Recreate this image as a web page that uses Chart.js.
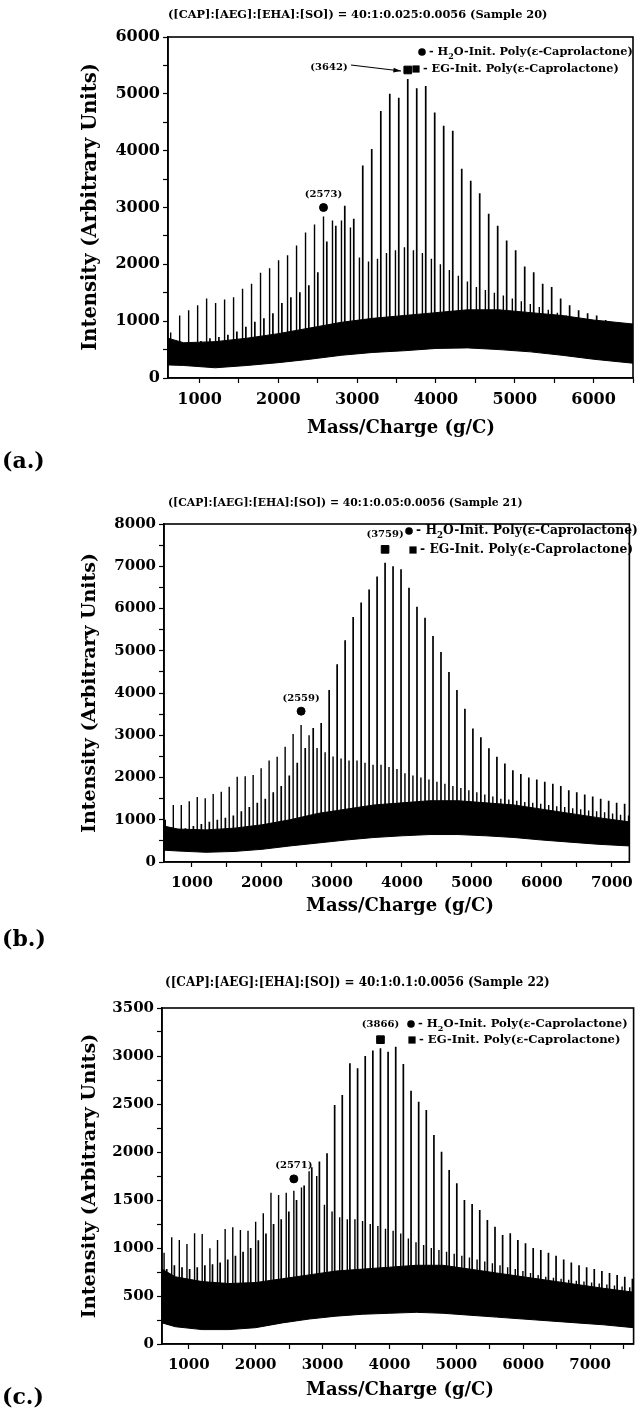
<!DOCTYPE html>
<html>
<head>
<meta charset="utf-8">
<script src="https://cdn.jsdelivr.net/npm/chart.js@4.4.1/dist/chart.umd.min.js"></script>
<style>
  body { margin: 0; background: #fff; width: 640px; height: 1412px; position: relative; overflow: hidden; }
  canvas { position: absolute; left: 0; }
</style>
</head>
<body>
<canvas id="chartA" width="640" height="478" style="top:0px"></canvas>
<canvas id="chartB" width="640" height="472" style="top:478px"></canvas>
<canvas id="chartC" width="640" height="462" style="top:950px"></canvas>
<script>
// ================== (a.) SAMPLE 20 ==================
const titleA = "([CAP]:[AEG]:[EHA]:[SO]) = 40:1:0.025:0.0056 (Sample 20)";
const mzH2O_a = [634, 748, 862, 976, 1090, 1204, 1318, 1432, 1546, 1660, 1774, 1889, 2003, 2117, 2231, 2345, 2459, 2573, 2687, 2801, 2915, 3029, 3144, 3258, 3372, 3486, 3600, 3714, 3828, 3942, 4056, 4170, 4284, 4399, 4513, 4627, 4741, 4855, 4969, 5083, 5197, 5311, 5425, 5540, 5654, 5768, 5882, 5996, 6110, 6224, 6338, 6452];
const intH2O_a = [800, 1100, 1190, 1280, 1400, 1320, 1380, 1420, 1570, 1660, 1850, 1930, 2070, 2160, 2330, 2560, 2700, 2840, 2770, 2770, 2650, 2120, 2050, 2100, 2200, 2250, 2300, 2250, 2200, 2100, 2000, 1900, 1800, 1700, 1600, 1550, 1500, 1450, 1400, 1350, 1300, 1250, 1200, 1150, 1100, 1050, 1000, 980, 950, 920, 900, 880];
const mzEG_a = [675, 790, 904, 1018, 1132, 1246, 1360, 1474, 1588, 1702, 1817, 1931, 2045, 2159, 2273, 2387, 2501, 2615, 2729, 2843, 2957, 3071, 3185, 3300, 3414, 3528, 3642, 3756, 3870, 3984, 4098, 4213, 4327, 4441, 4555, 4669, 4783, 4897, 5011, 5126, 5240, 5354, 5468, 5582, 5696, 5810, 5924, 6039, 6153, 6267, 6381, 6495];
const intEG_a = [550, 600, 620, 650, 700, 720, 760, 820, 900, 990, 1050, 1140, 1320, 1420, 1510, 1630, 1860, 2400, 2680, 3030, 2800, 3740, 4030, 4700, 5000, 4930, 5260, 5100, 5140, 4670, 4440, 4350, 3680, 3470, 3250, 2890, 2680, 2420, 2250, 1960, 1860, 1660, 1600, 1400, 1280, 1190, 1140, 1100, 1020, 900, 790, 700];
const bandMz_a = [600, 800, 1200, 1600, 2000, 2400, 2800, 3200, 3600, 4000, 4400, 4800, 5200, 5600, 6000, 6500];
const bandLo_a = [230, 220, 180, 220, 270, 330, 400, 450, 480, 520, 530, 500, 460, 400, 330, 260];
const bandHi_a = [700, 620, 640, 700, 780, 880, 980, 1050, 1100, 1150, 1200, 1200, 1150, 1100, 1020, 950];
const markH2O_a = [2573, 3000];
const markEG_a = [3642, 5420];

// ================== (b.) SAMPLE 21 ==================
const titleB = "([CAP]:[AEG]:[EHA]:[SO]) = 40:1:0.05:0.0056 (Sample 21)";
const mzH2O_b = [619, 733, 847, 961, 1075, 1189, 1303, 1418, 1532, 1646, 1760, 1874, 1988, 2102, 2217, 2331, 2445, 2559, 2673, 2787, 2902, 3016, 3130, 3244, 3358, 3472, 3587, 3701, 3815, 3929, 4043, 4157, 4271, 4386, 4500, 4614, 4728, 4842, 4956, 5070, 5184, 5299, 5413, 5527, 5641, 5755, 5869, 5983, 6097, 6212, 6326, 6440, 6554, 6668, 6782, 6896, 7010, 7124, 7238];
const intH2O_b = [1000, 1350, 1350, 1440, 1540, 1510, 1610, 1660, 1780, 2020, 2030, 2060, 2220, 2400, 2490, 2730, 3030, 3240, 3000, 2700, 2600, 2500, 2450, 2400, 2400, 2350, 2300, 2300, 2250, 2200, 2100, 2050, 2000, 1950, 1900, 1850, 1800, 1750, 1700, 1650, 1600, 1550, 1500, 1480, 1450, 1420, 1400, 1380, 1350, 1320, 1300, 1270, 1250, 1220, 1200, 1180, 1150, 1120, 1100];
const mzEG_b = [678, 792, 906, 1020, 1134, 1248, 1362, 1477, 1591, 1705, 1819, 1933, 2047, 2161, 2275, 2390, 2504, 2618, 2732, 2846, 2960, 3074, 3188, 3303, 3417, 3531, 3645, 3759, 3873, 3987, 4101, 4215, 4330, 4444, 4558, 4672, 4786, 4900, 5014, 5128, 5243, 5357, 5471, 5585, 5699, 5813, 5927, 6041, 6156, 6270, 6384, 6498, 6612, 6726, 6840, 6954, 7068, 7182];
const intEG_b = [700, 750, 800, 850, 900, 950, 1000, 1050, 1100, 1200, 1300, 1400, 1500, 1650, 1800, 2050, 2350, 2700, 3170, 3290, 4070, 4680, 5250, 5800, 6140, 6450, 6760, 7080, 7000, 6930, 6490, 6040, 5780, 5350, 4970, 4500, 4070, 3630, 3160, 2950, 2690, 2490, 2330, 2170, 2080, 2000, 1950, 1900, 1850, 1800, 1700, 1650, 1600, 1550, 1500, 1450, 1400, 1380];
const bandMz_b = [600, 800, 1200, 1600, 2000, 2400, 2800, 3200, 3600, 4000, 4400, 4800, 5200, 5600, 6000, 6400, 6800, 7250];
const bandLo_b = [280, 260, 230, 250, 300, 380, 450, 520, 580, 620, 650, 650, 620, 580, 520, 470, 420, 380];
const bandHi_b = [850, 780, 760, 800, 880, 1000, 1150, 1250, 1350, 1400, 1450, 1450, 1400, 1350, 1250, 1150, 1050, 950];
const markH2O_b = [2559, 3570];
const markEG_b = [3759, 7400];

// ================== (c.) SAMPLE 22 ==================
const titleC = "([CAP]:[AEG]:[EHA]:[SO]) = 40:1:0.1:0.0056 (Sample 22)";
const mzH2O_c = [631, 745, 859, 973, 1087, 1201, 1316, 1430, 1544, 1658, 1772, 1886, 2000, 2114, 2229, 2343, 2457, 2571, 2685, 2799, 2913, 3028, 3142, 3256, 3370, 3484, 3598, 3713, 3827, 3941, 4055, 4169, 4283, 4397, 4511, 4626, 4740, 4854, 4968, 5082, 5196, 5310, 5425, 5539, 5653, 5767, 5881, 5995, 6109, 6223, 6337, 6452, 6566, 6680, 6794, 6908, 7022, 7136, 7250, 7364, 7478, 7592];
const intH2O_c = [950, 1111, 1083, 1042, 1153, 1146, 997, 1083, 1198, 1215, 1188, 1180, 1274, 1361, 1576, 1552, 1576, 1597, 1630, 1800, 1750, 1450, 1380, 1320, 1300, 1300, 1280, 1250, 1230, 1200, 1180, 1150, 1100, 1060, 1030, 1000, 980, 960, 940, 920, 900, 880, 860, 840, 820, 800, 780, 760, 740, 720, 700, 690, 680, 670, 660, 650, 640, 630, 620, 610, 600, 590];
const mzEG_c = [671, 785, 899, 1013, 1127, 1241, 1355, 1469, 1583, 1698, 1812, 1926, 2040, 2154, 2268, 2382, 2496, 2611, 2725, 2839, 2953, 3067, 3181, 3295, 3409, 3524, 3638, 3752, 3866, 3980, 4094, 4208, 4323, 4437, 4551, 4665, 4779, 4893, 5007, 5121, 5236, 5350, 5464, 5578, 5692, 5806, 5920, 6034, 6149, 6263, 6377, 6491, 6605, 6719, 6834, 6948, 7062, 7176, 7290, 7404, 7518, 7632];
const intEG_c = [780, 820, 800, 780, 800, 820, 830, 850, 880, 920, 960, 1000, 1080, 1150, 1250, 1300, 1380, 1500, 1650, 1840, 1900, 1986, 2490, 2594, 2924, 2872, 3000, 3056, 3080, 3045, 3097, 2917, 2639, 2524, 2438, 2177, 2003, 1813, 1674, 1500, 1458, 1396, 1292, 1222, 1135, 1153, 1083, 1049, 1000, 980, 950, 920, 880, 850, 820, 800, 780, 760, 740, 720, 700, 680];
const bandMz_c = [600, 800, 1200, 1600, 2000, 2400, 2800, 3200, 3600, 4000, 4400, 4800, 5200, 5600, 6000, 6400, 6800, 7200, 7650];
const bandLo_c = [220, 180, 150, 150, 170, 220, 260, 290, 310, 320, 330, 320, 300, 280, 260, 240, 220, 200, 170];
const bandHi_c = [780, 700, 650, 630, 640, 680, 720, 760, 780, 800, 820, 820, 780, 740, 700, 660, 620, 580, 540];
const markH2O_c = [2571, 1720];
const markEG_c = [3866, 3170];

const yTitle = "Intensity (Arbitrary Units)";
const xTitle = "Mass/Charge (g/C)";
const legendH2O = [{ t: "- H" }, { t: "2", sub: true }, { t: "O-Init. Poly(ε-Caprolactone)" }];
const legendEG = [{ t: "- EG-Init. Poly(ε-Caprolactone)" }];

// ================== HELPERS ==================
const SERIF = '"DejaVu Serif", "Liberation Serif", serif';

function setFont(ctx, size) {
    ctx.font = "bold " + size + "px " + SERIF;
}

function fitSize(ctx, text, width) {
    setFont(ctx, 20);
    return 20 * width / ctx.measureText(text).width;
}

function richWidth(ctx, parts, size) {
    let w = 0;
    parts.forEach(p => {
        setFont(ctx, p.sub ? size * 0.7 : size);
        w += ctx.measureText(p.t).width;
    });
    return w;
}

function drawRich(ctx, parts, x, y, size) {
    let cx = x;
    parts.forEach(p => {
        if (p.sub) {
            setFont(ctx, size * 0.7);
            ctx.fillText(p.t, cx, y + size * 0.4);
        } else {
            setFont(ctx, size);
            ctx.fillText(p.t, cx, y);
        }
        cx += ctx.measureText(p.t).width;
    });
}

function drawMarker(ctx, type, x, y) {
    ctx.beginPath();
    if (type === "circle") {
        ctx.arc(x, y, 3.8, 0, Math.PI * 2);
    } else {
        ctx.rect(x - 3.6, y - 3.6, 7.2, 7.2);
    }
    ctx.fill();
}

function spikes(mz, inten, floor) {
    const pts = [];
    mz.forEach((m, i) => {
        pts.push({ x: m, y: floor }, { x: m, y: inten[i] }, { x: m, y: floor });
    });
    return pts;
}

function band(mz, vals) {
    return mz.map((m, i) => ({ x: m, y: vals[i] }));
}

// tick positions on round steps (the library would otherwise split min..max evenly)
function roundTicks(step) {
    return s => {
        const t = [];
        for (let v = Math.ceil(s.min / step) * step; v <= s.max + 1e-6; v += step) t.push({ value: v });
        s.ticks = t;
    };
}

// page-coordinate layout of each panel (pixels)
const panels = [
    {
        id: "chartA", canvasTop: 0, title: titleA, letter: "(a.)",
        area: { left: 168, right: 634, top: 37, bottom: 378 },
        xMin: 600, xMax: 6500, yMax: 6000, yStep: 500, yLabelEvery: 1000, floor: 575, tickSize: 16,
        mzH2O: mzH2O_a, intH2O: intH2O_a, mzEG: mzEG_a, intEG: intEG_a,
        bandMz: bandMz_a, bandLo: bandLo_a, bandHi: bandHi_a,
        markH2O: markH2O_a, markEG: markEG_a,
        titlePos: { x: 168, y: 15, w: 380 },
        yTitlePos: { x: 91, y: 207, w: 288 },
        xTitlePos: { x: 401, y: 428 },
        letterPos: { x: 2, y: 462 },
        legend: { x1: 429, y1: 52, x2: 423, y2: 69, w: 204 },
        egLabel: { x: 329, y: 67, arrow: [351, 65, 401, 71] }
    },
    {
        id: "chartB", canvasTop: 478, title: titleB, letter: "(b.)",
        area: { left: 164, right: 637, top: 524, bottom: 862 },
        xMin: 600, xMax: 7250, yMax: 8000, yStep: 500, yLabelEvery: 1000, floor: 700, tickSize: 15,
        mzH2O: mzH2O_b, intH2O: intH2O_b, mzEG: mzEG_b, intEG: intEG_b,
        bandMz: bandMz_b, bandLo: bandLo_b, bandHi: bandHi_b,
        markH2O: markH2O_b, markEG: markEG_b,
        titlePos: { x: 168, y: 503, w: 355 },
        yTitlePos: { x: 90, y: 693, w: 280 },
        xTitlePos: { x: 400, y: 906 },
        letterPos: { x: 2, y: 940 },
        legend: { x1: 416, y1: 531, x2: 420, y2: 550, w: 222 },
        egLabel: null
    },
    {
        id: "chartC", canvasTop: 950, title: titleC, letter: "(c.)",
        area: { left: 162, right: 637, top: 1008, bottom: 1344 },
        xMin: 600, xMax: 7650, yMax: 3500, yStep: 250, yLabelEvery: 500, floor: 430, tickSize: 15,
        mzH2O: mzH2O_c, intH2O: intH2O_c, mzEG: mzEG_c, intEG: intEG_c,
        bandMz: bandMz_c, bandLo: bandLo_c, bandHi: bandHi_c,
        markH2O: markH2O_c, markEG: markEG_c,
        titlePos: { x: 165, y: 983, w: 385 },
        yTitlePos: { x: 90, y: 1176, w: 285 },
        xTitlePos: { x: 400, y: 1390 },
        letterPos: { x: 2, y: 1398 },
        legend: { x1: 418, y1: 1024, x2: 419, y2: 1040, w: 210 },
        egLabel: null
    }
];

// ================== DECORATION PLUGIN ==================
function decor(p) {
    return {
        id: "decor",
        afterDraw(chart) {
            const ctx = chart.ctx;
            const a = chart.chartArea;
            const off = p.canvasTop;
            const xs = chart.scales.x, ys = chart.scales.y;
            ctx.save();
            ctx.fillStyle = "#000";
            ctx.strokeStyle = "#000";

            // frame
            ctx.lineWidth = 1.6;
            ctx.strokeRect(a.left, a.top, a.right - a.left, a.bottom - a.top);

            // title
            ctx.textAlign = "left";
            ctx.textBaseline = "middle";
            setFont(ctx, fitSize(ctx, p.title, p.titlePos.w));
            ctx.fillText(p.title, p.titlePos.x, p.titlePos.y - off);

            // axis titles
            ctx.save();
            ctx.translate(p.yTitlePos.x, p.yTitlePos.y - off);
            ctx.rotate(-Math.PI / 2);
            ctx.textAlign = "center";
            setFont(ctx, fitSize(ctx, yTitle, p.yTitlePos.w));
            ctx.fillText(yTitle, 0, 0);
            ctx.restore();

            ctx.textAlign = "center";
            setFont(ctx, 18);
            ctx.fillText(xTitle, p.xTitlePos.x, p.xTitlePos.y - off);

            // panel letter
            ctx.textAlign = "left";
            setFont(ctx, 22);
            ctx.fillText(p.letter, p.letterPos.x, p.letterPos.y - off);

            // legend
            const lg = p.legend;
            const ls = lg.w / richWidth(ctx, legendH2O, 10) * 10;
            drawMarker(ctx, "circle", lg.x1 - 7, lg.y1 - off);
            drawRich(ctx, legendH2O, lg.x1, lg.y1 - off, ls);
            drawMarker(ctx, "rect", lg.x2 - 7, lg.y2 - off);
            drawRich(ctx, legendEG, lg.x2, lg.y2 - off, ls);

            // peak labels
            setFont(ctx, 10);
            ctx.textAlign = "center";
            const hx = xs.getPixelForValue(p.markH2O[0]);
            const hy = ys.getPixelForValue(p.markH2O[1]);
            ctx.fillText("(" + p.markH2O[0] + ")", hx, hy - 13);
            const ex = xs.getPixelForValue(p.markEG[0]);
            const ey = ys.getPixelForValue(p.markEG[1]);
            if (p.egLabel) {
                const L = p.egLabel;
                ctx.fillText("(" + p.markEG[0] + ")", L.x, L.y - off);
                const [x1, y1, x2, y2] = L.arrow;
                ctx.lineWidth = 1.2;
                ctx.beginPath();
                ctx.moveTo(x1, y1 - off);
                ctx.lineTo(x2, y2 - off);
                ctx.stroke();
                const ang = Math.atan2(y2 - y1, x2 - x1);
                ctx.beginPath();
                ctx.moveTo(x2, y2 - off);
                ctx.lineTo(x2 - 8 * Math.cos(ang - 0.3), y2 - off - 8 * Math.sin(ang - 0.3));
                ctx.lineTo(x2 - 8 * Math.cos(ang + 0.3), y2 - off - 8 * Math.sin(ang + 0.3));
                ctx.closePath();
                ctx.fill();
            } else {
                ctx.fillText("(" + p.markEG[0] + ")", ex, ey - 15);
            }
            ctx.restore();
        }
    };
}

// ================== CHARTS ==================
panels.forEach(p => {
    const canvas = document.getElementById(p.id);
    const H = canvas.height;
    const xAxisH = 30;
    const tickFont = { family: SERIF, weight: "bold", size: p.tickSize };

    new Chart(canvas, {
        type: "line",
        data: {
            datasets: [
                { data: band(p.bandMz, p.bandHi), fill: "+1", backgroundColor: "#000", borderColor: "#000", borderWidth: 1, pointRadius: 0 },
                { data: band(p.bandMz, p.bandLo), fill: false, borderColor: "#000", borderWidth: 1, pointRadius: 0 },
                { data: spikes(p.mzEG, p.intEG, p.floor), borderColor: "#000", borderWidth: 1.7, pointRadius: 0, fill: false, borderJoinStyle: "bevel" },
                { data: spikes(p.mzH2O, p.intH2O, p.floor), borderColor: "#000", borderWidth: 1.4, pointRadius: 0, fill: false, borderJoinStyle: "bevel" },
                { data: [{ x: p.markH2O[0], y: p.markH2O[1] }], showLine: false, pointStyle: "circle", pointRadius: 4, backgroundColor: "#000", borderColor: "#000" },
                { data: [{ x: p.markEG[0], y: p.markEG[1] }], showLine: false, pointStyle: "rect", pointRadius: 5.4, backgroundColor: "#000", borderColor: "#000" }
            ]
        },
        options: {
            responsive: false,
            animation: false,
            events: [],
            layout: {
                padding: {
                    left: 0,
                    top: p.area.top - p.canvasTop,
                    right: 640 - p.area.right,
                    bottom: H - (p.area.bottom - p.canvasTop) - xAxisH
                }
            },
            plugins: { legend: { display: false }, tooltip: { enabled: false } },
            scales: {
                x: {
                    type: "linear",
                    min: p.xMin,
                    max: p.xMax,
                    afterFit: s => { s.height = xAxisH; },
                    afterBuildTicks: roundTicks(500),
                    ticks: {
                        autoSkip: false, maxRotation: 0, padding: 7, color: "#000", font: tickFont,
                        callback: v => (v % 1000 === 0 ? String(v) : "")
                    },
                    grid: { drawOnChartArea: false, tickLength: 5, tickColor: "#000", tickWidth: 1.2 },
                    border: { color: "#000", width: 1.6 }
                },
                y: {
                    min: 0,
                    max: p.yMax,
                    afterFit: s => { s.width = p.area.left; },
                    afterBuildTicks: roundTicks(p.yStep),
                    ticks: {
                        autoSkip: false, padding: 3, color: "#000", font: tickFont,
                        callback: v => (v % p.yLabelEvery === 0 ? String(v) : "")
                    },
                    grid: { drawOnChartArea: false, tickLength: 5, tickColor: "#000", tickWidth: 1.2 },
                    border: { color: "#000", width: 1.6 }
                }
            }
        },
        plugins: [decor(p)]
    });
});
</script>
</body>
</html>
